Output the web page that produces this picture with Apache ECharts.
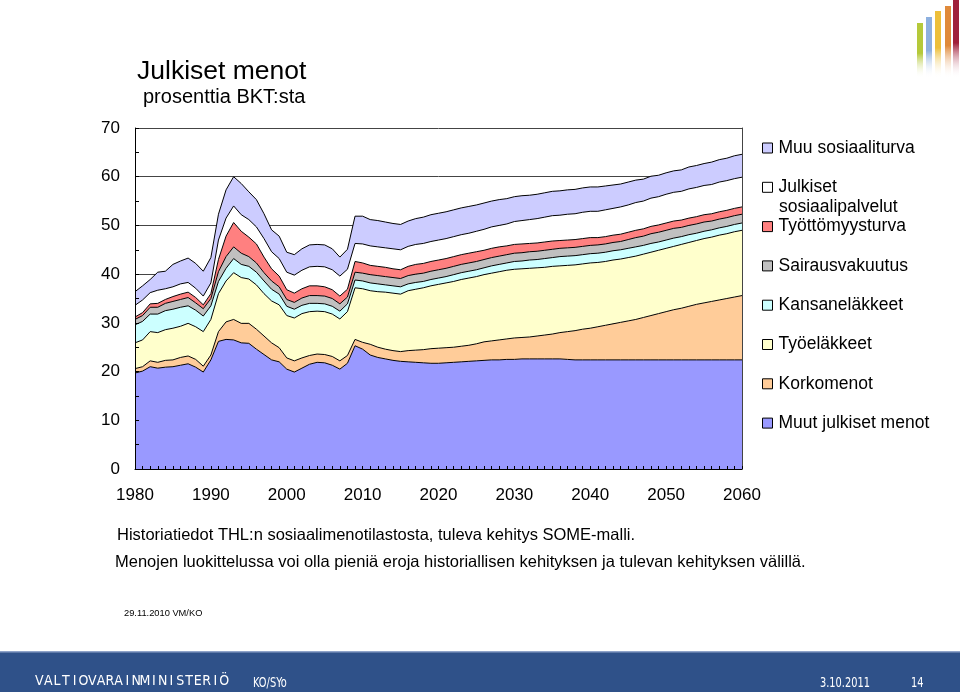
<!DOCTYPE html>
<html><head><meta charset="utf-8">
<script src="https://cdn.jsdelivr.net/npm/echarts@6/dist/echarts.min.js"></script>
<style>html,body{margin:0;padding:0;background:#fff}#c{width:960px;height:692px}</style>
</head><body><div id="c"></div>
<script>
// Categories: years 1980..2060
const years = [];
for (let y = 1980; y <= 2060; y++) years.push(String(y));

// Series values (% of GDP), one value per year 1980..2060
const muutJulkisetMenot = [
  19.7,20.1,21.0,20.7,20.9,21.0,21.3,21.6,20.9,19.9,22.4,
  26.2,26.6,26.5,25.9,25.8,24.6,23.5,22.4,22.0,20.5,
  19.9,20.7,21.5,21.9,21.8,21.3,20.5,21.7,25.3,24.6,
  23.4,22.9,22.6,22.3,22.1,22.0,21.9,21.8,21.7,21.7,
  21.8,21.9,22.0,22.1,22.2,22.3,22.4,22.4,22.5,22.5,
  22.6,22.6,22.6,22.6,22.6,22.6,22.5,22.4,22.4,22.4,
  22.4,22.4,22.4,22.4,22.4,22.4,22.4,22.4,22.4,22.4,
  22.4,22.4,22.4,22.4,22.4,22.4,22.4,22.4,22.4,22.4
];
const korkomenot = [
  0.9,0.9,1.2,1.2,1.4,1.4,1.6,1.6,1.6,1.2,1.0,
  2.0,3.6,4.2,4.0,4.1,4.1,3.8,3.5,2.9,2.3,
  2.3,2.1,1.8,1.7,1.7,1.8,1.7,1.6,1.3,1.4,
  2.2,2.1,2.0,2.0,2.0,2.3,2.5,2.7,3.0,3.1,
  3.1,3.1,3.2,3.3,3.5,3.8,3.9,4.1,4.2,4.4,
  4.4,4.5,4.7,4.9,5.1,5.4,5.7,6.0,6.3,6.5,
  6.8,7.1,7.4,7.7,8.0,8.3,8.7,9.1,9.5,9.9,
  10.3,10.6,11.0,11.4,11.7,12.0,12.3,12.6,12.9,13.2
];
const tyoelakkeet = [
  5.3,5.5,6.0,6.1,6.3,6.5,6.4,6.7,6.7,7.1,7.3,
  7.8,8.4,9.6,9.4,9.1,9.1,8.7,8.6,8.8,8.7,
  8.8,9.1,9.0,8.8,8.8,8.7,8.6,9.0,10.6,11.0,
  11.0,11.4,11.7,11.8,11.8,12.3,12.5,12.7,12.9,13.1,
  13.3,13.5,13.7,13.8,13.8,13.8,13.9,14.0,14.1,14.1,
  14.1,14.1,14.0,13.9,13.9,13.7,13.6,13.5,13.4,13.4,
  13.2,13.1,13.1,13.0,13.0,13.0,13.0,13.0,13.0,13.0,
  13.0,13.1,13.1,13.1,13.2,13.2,13.3,13.3,13.4,13.4
];
const kansanelakkeet = [
  3.7,3.8,3.6,3.8,3.9,3.9,3.9,3.6,3.4,3.2,2.8,
  2.5,2.6,2.9,2.7,2.6,2.6,2.6,2.4,2.2,1.9,
  1.8,1.7,1.7,1.6,1.6,1.6,1.6,1.6,1.6,1.6,
  1.6,1.6,1.5,1.5,1.5,1.4,1.4,1.3,1.3,1.3,
  1.3,1.4,1.4,1.4,1.4,1.4,1.5,1.5,1.5,1.6,
  1.6,1.7,1.7,1.8,1.8,1.9,1.9,1.9,1.9,1.9,
  1.9,1.9,1.9,1.9,1.9,1.9,1.8,1.8,1.7,1.7,
  1.7,1.6,1.6,1.5,1.5,1.5,1.5,1.5,1.5,1.5
];
const sairausvakuutus = [
  1.1,1.2,1.4,1.4,1.5,1.6,1.6,1.7,1.5,1.5,1.5,
  2.0,2.4,2.4,2.3,2.0,1.9,1.7,1.7,1.5,1.4,
  1.4,1.5,1.6,1.6,1.6,1.6,1.5,1.4,1.6,1.6,
  1.7,1.7,1.7,1.7,1.7,1.7,1.7,1.7,1.7,1.7,
  1.7,1.7,1.7,1.7,1.7,1.7,1.7,1.7,1.7,1.7,
  1.7,1.7,1.7,1.7,1.7,1.7,1.7,1.7,1.7,1.7,
  1.7,1.7,1.7,1.7,1.8,1.9,1.9,2.0,2.0,2.0,
  2.0,1.9,1.9,1.9,1.9,1.8,1.8,1.8,1.8,1.8
];
const tyottomyysturva = [
  0.5,0.6,0.7,0.8,0.8,1.0,1.1,1.1,1.1,0.8,1.0,
  2.5,4.2,5.0,4.5,4.0,3.9,3.2,2.5,2.2,2.0,
  1.9,1.9,2.0,2.0,1.9,1.8,1.6,1.6,2.2,2.1,
  1.9,1.9,1.9,1.8,1.8,1.9,2.0,2.0,2.0,2.0,
  2.0,2.0,2.0,2.0,2.0,1.9,1.9,1.9,1.8,1.8,
  1.8,1.7,1.7,1.7,1.7,1.6,1.6,1.6,1.6,1.6,
  1.5,1.5,1.5,1.5,1.5,1.5,1.5,1.5,1.5,1.5,
  1.5,1.5,1.5,1.5,1.5,1.5,1.5,1.5,1.5,1.5
];
const julkisetSosiaalipalvelut = [
  2.4,2.6,2.3,2.7,2.2,2.0,2.1,2.0,1.9,1.8,2.2,
  4.0,3.7,3.4,3.4,3.6,3.5,3.8,3.5,3.6,3.6,
  3.7,3.8,3.9,4.0,4.1,4.1,4.1,4.1,3.7,3.9,
  4.0,4.0,4.0,4.1,4.1,4.1,4.1,4.1,4.1,4.1,
  4.1,4.1,4.1,4.1,4.2,4.3,4.4,4.4,4.5,4.7,
  4.8,4.9,5.0,5.1,5.2,5.2,5.3,5.3,5.4,5.4,
  5.4,5.5,5.5,5.6,5.6,5.7,5.7,5.8,5.8,5.9,
  5.9,5.9,6.0,6.0,6.0,6.0,6.1,6.1,6.1,6.1
];
const muuSosiaaliturva = [
  2.8,2.9,2.7,3.7,3.6,4.6,4.7,5.0,5.1,5.1,5.2,
  5.3,5.8,6.0,6.4,5.7,5.6,5.1,4.5,4.6,4.1,
  4.2,4.4,4.5,4.5,4.5,4.3,3.9,4.1,5.6,5.7,
  5.4,5.4,5.3,5.2,5.2,5.2,5.3,5.4,5.5,5.5,
  5.5,5.5,5.5,5.5,5.4,5.4,5.3,5.3,5.2,5.1,
  5.1,5.0,5.0,5.0,5.0,5.0,5.0,5.0,5.0,5.0,
  5.0,4.9,4.8,4.7,4.7,4.6,4.5,4.5,4.4,4.4,
  4.4,4.4,4.5,4.5,4.5,4.6,4.6,4.6,4.7,4.7
];

const seriesNames = ['Muut julkiset menot','Korkomenot','Työeläkkeet','Kansaneläkkeet',
  'Sairausvakuutus','Työttömyysturva','Julkiset sosiaalipalvelut','Muu sosiaaliturva'];
const seriesData = [muutJulkisetMenot,korkomenot,tyoelakkeet,kansanelakkeet,
  sairausvakuutus,tyottomyysturva,julkisetSosiaalipalvelut,muuSosiaaliturva];
const seriesColors = ['#9999FF','#FFCC99','#FFFFCC','#CCFFFF','#C0C0C0','#FF8080','#FFFFFF','#CCCCFF'];

const FONT = "'Liberation Sans', Arial, sans-serif";
const CONDENSED = "'DejaVu Sans Condensed', 'Liberation Sans Narrow', 'Liberation Sans', sans-serif";

const chart = echarts.init(document.getElementById('c'), null, {renderer:'canvas'});

const series = seriesNames.map((n,i) => ({
  name: n, type: 'line', stack: 'total', data: seriesData[i],
  showSymbol: false, symbol: 'none', smooth: false,
  itemStyle: {color: seriesColors[i], borderColor:'#000', borderWidth:1},
  lineStyle: {color:'#000', width:1},
  areaStyle: {color: seriesColors[i], opacity: 1},
  emphasis: {disabled: true}, animation: false
}));

// footer letters (letter-spaced ministry name)
const footerWord = 'VALTIOVARAINMINISTERIÖ';
const footerLetters = footerWord.split('').map((ch,i) => ({
  type:'text', x: 39.4 + i*8.8, y: 681, silent:true,
  style:{text: ch, fill:'#fff', font: "14px " + CONDENSED, textAlign:'center', textVerticalAlign:'middle'}
}));

function footerText(str, x) {
  return {type:'text', x: x, y: 683, scaleX: 0.78, silent:true,
    style:{text: str, fill:'#fff', font:'14px ' + CONDENSED, textAlign:'left', textVerticalAlign:'middle'}};
}

const logoBars = [
  {x:917, top:23, c:'#B5C93A'},
  {x:926, top:17, c:'#8DB0DF'},
  {x:935, top:11, c:'#EDBF3A'},
  {x:945, top:6,  c:'#E08A3A'},
  {x:953, top:0,  c:'#A0203A'}
].map(b => ({
  type:'rect', shape:{x:b.x, y:b.top, width:6, height:78-b.top}, silent:true,
  style:{fill: new echarts.graphic.LinearGradient(0,0,0,1,[
    {offset:0,color:b.c},{offset:0.55,color:b.c},{offset:1,color:'rgba(255,255,255,0)'}])}
}));

chart.setOption({
  animation: false,
  backgroundColor: '#fff',
  grid: {left:135, right:218, top:128, bottom:223, containLabel:false},
  xAxis: {
    type:'category', data: years, boundaryGap:false, z:5,
    axisLine:{show:true, lineStyle:{color:'#000', width:1}},
    axisTick:{show:true, inside:true, length:3, interval:0, lineStyle:{color:'#000'}},
    axisLabel:{interval:9, color:'#000', fontSize:17, fontFamily:FONT, margin:18},
    splitLine:{show:false}
  },
  yAxis: [
    {type:'value', min:0, max:70, interval:10, position:'left',
      axisLine:{show:false}, axisTick:{show:false},
      axisLabel:{color:'#000', fontSize:17, fontFamily:FONT, margin:15},
      splitLine:{show:true, lineStyle:{color:'#444', width:1}}},
    {type:'value', min:0, max:70, interval:10, position:'left', z:5,
      axisLine:{show:true, lineStyle:{color:'#000', width:1}},
      axisTick:{show:true, inside:true, length:4, lineStyle:{color:'#000'}},
      minorTick:{show:true, splitNumber:2, length:4, lineStyle:{color:'#000'}},
      axisLabel:{show:false}, splitLine:{show:false}},
    {type:'value', min:0, max:70, interval:10, position:'right', z:5,
      axisLine:{show:true, lineStyle:{color:'#444', width:1}},
      axisTick:{show:false}, axisLabel:{show:false}, splitLine:{show:false}}
  ],
  legend: {
    orient:'vertical', left:762, top:138, padding:0, itemGap:19.3,
    itemWidth:10, itemHeight:10, icon:'rect', selectedMode:false,
    data: seriesNames.slice().reverse(),
    itemStyle:{borderColor:'#000', borderWidth:1},
    formatter: n => n === 'Julkiset sosiaalipalvelut' ? 'Julkiset' : n,
    textStyle:{color:'#000', fontSize:17.5, fontFamily:FONT, lineHeight:20, padding:[0,0,0,1]}
  },
  series: series,
  graphic: [
    {type:'text', left:137, top:58, silent:true,
      style:{text:'Julkiset menot', fill:'#000', font:'26.5px ' + FONT}},
    {type:'text', left:143, top:87, silent:true,
      style:{text:'prosenttia BKT:sta', fill:'#000', font:'20px ' + FONT}},
    {type:'text', left:779, top:198, silent:true,
      style:{text:'sosiaalipalvelut', fill:'#000', font:'17.5px ' + FONT}},
    {type:'text', left:117, top:527, silent:true,
      style:{text:'Historiatiedot THL:n sosiaalimenotilastosta, tuleva kehitys SOME-malli.', fill:'#000', font:'16.5px ' + FONT}},
    {type:'text', left:115, top:554, silent:true,
      style:{text:'Menojen luokittelussa voi olla pieniä eroja historiallisen kehityksen ja tulevan kehityksen välillä.', fill:'#000', font:'16.5px ' + FONT}},
    {type:'text', left:124, top:609, silent:true,
      style:{text:'29.11.2010 VM/KO', fill:'#000', font:'9.3px ' + FONT}},
    {type:'rect', shape:{x:0, y:652, width:960, height:40}, silent:true, style:{fill:'#2F5189'}},
    {type:'rect', shape:{x:0, y:651, width:960, height:1.5}, silent:true, style:{fill:'#8FA3C9'}},
    ...footerLetters,
    footerText('KO/SYo', 253),
    footerText('3.10.2011', 820),
    footerText('14', 911),
    ...logoBars
  ]
});
</script>
</body></html>
